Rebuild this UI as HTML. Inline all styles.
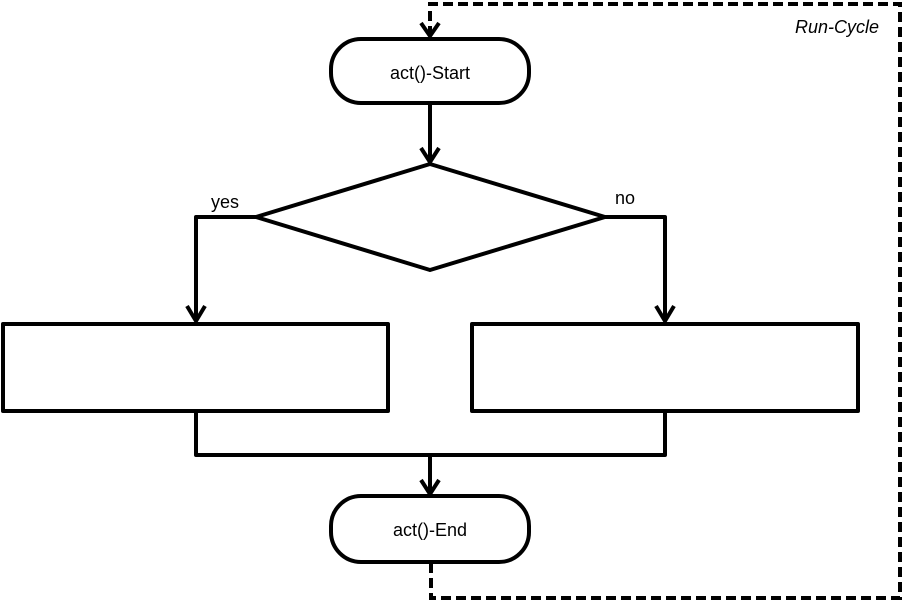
<!DOCTYPE html>
<html><head><meta charset="utf-8"><style>
html,body{margin:0;padding:0;background:#fff;width:902px;height:603px;overflow:hidden}
svg text{font-family:"Liberation Sans",sans-serif;font-size:18px}
</style></head><body>
<svg width="902" height="603" viewBox="0 0 902 603" xmlns="http://www.w3.org/2000/svg">
<g fill="none" stroke="#000" stroke-width="4" stroke-linejoin="round">
<path d="M430 36 L430 4 L900 4 L900 598 L431 598 L431 564" stroke-dasharray="10 5" stroke-linejoin="miter"/>
<path d="M421 23 L430 36 L439 23"/>
<rect x="331" y="39" width="198" height="64" rx="30"/>
<path d="M430 103 L430 162"/>
<path d="M421 148 L430 162 L439 148"/>
<path d="M430 164 L605 217 L430 270 L256 217 Z"/>
<path d="M256 217 L196 217 L196 321"/>
<path d="M187 306 L196 321 L205 306"/>
<path d="M605 217 L665 217 L665 321"/>
<path d="M656 306 L665 321 L674 306"/>
<rect x="3" y="324" width="385" height="87"/>
<rect x="472" y="324" width="386" height="87"/>
<path d="M196 411 L196 455 L665 455 L665 411"/>
<path d="M430 455 L430 494"/>
<path d="M421 480 L430 494 L439 480"/>
<rect x="331" y="496" width="198" height="66" rx="30"/>
</g>
<text x="430" y="79" text-anchor="middle">act()-Start</text>
<text x="430" y="536" text-anchor="middle">act()-End</text>
<text x="211" y="208">yes</text>
<text x="615" y="204">no</text>
<text x="879" y="33" text-anchor="end" font-style="italic" font-size="19">Run-Cycle</text>
</svg>
</body></html>
